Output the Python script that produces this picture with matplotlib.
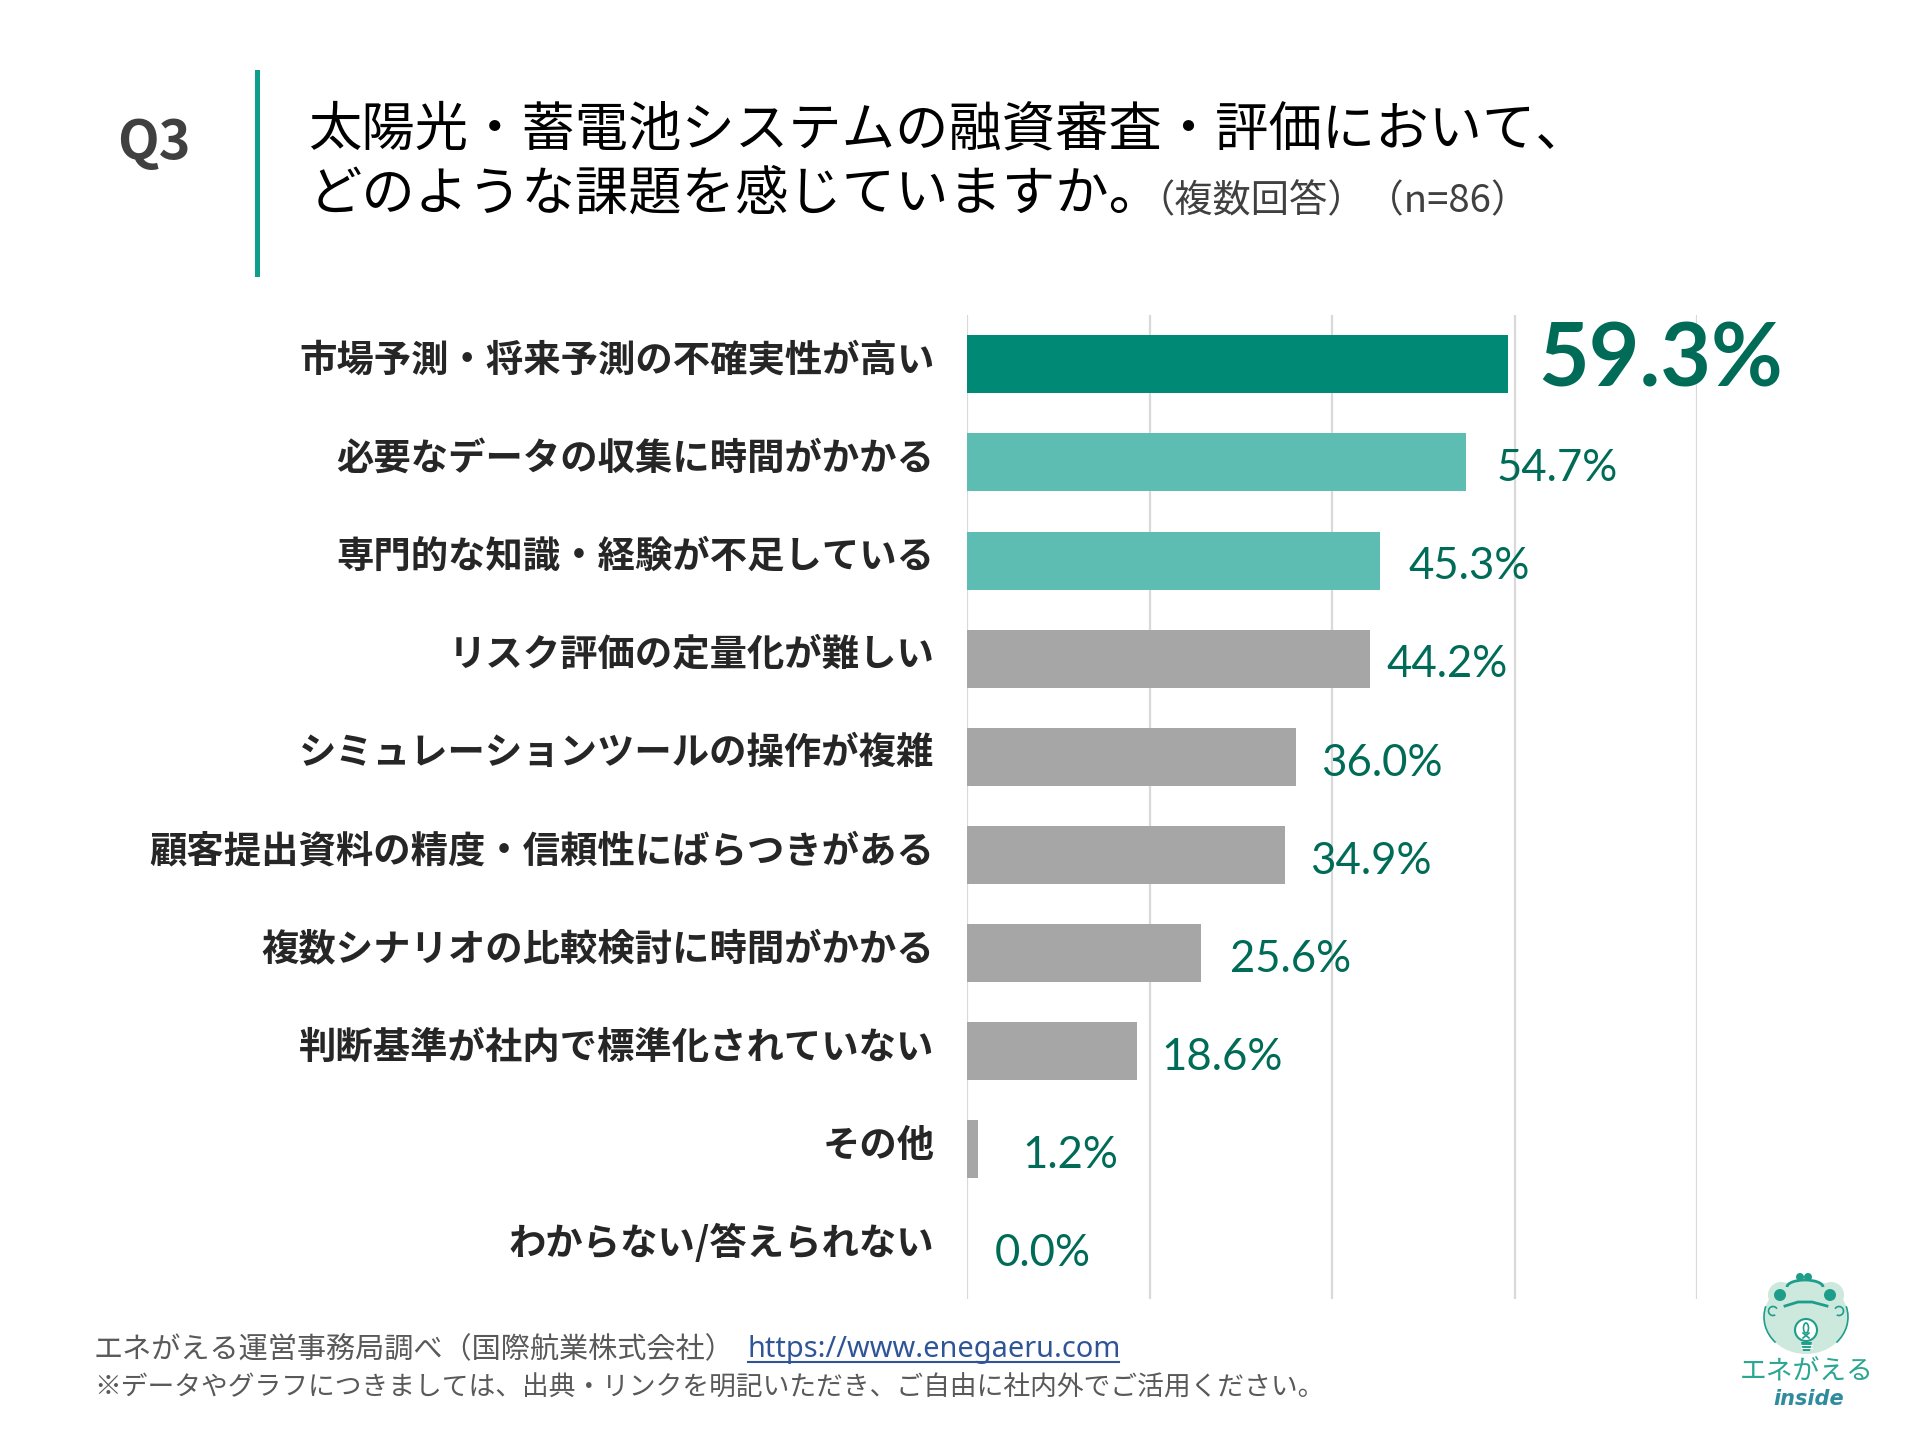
import matplotlib
matplotlib.use("Agg")
import matplotlib.pyplot as plt
from matplotlib.patches import Circle, Ellipse, Rectangle, Polygon, Arc
from matplotlib.transforms import ScaledTranslation

plt.rcParams['font.family'] = ['Noto Sans CJK JP', 'DejaVu Sans']

categories = ["市場予測・将来予測の不確実性が高い", "必要なデータの収集に時間がかかる",
              "専門的な知識・経験が不足している", "リスク評価の定量化が難しい",
              "シミュレーションツールの操作が複雑", "顧客提出資料の精度・信頼性にばらつきがある",
              "複数シナリオの比較検討に時間がかかる", "判断基準が社内で標準化されていない",
              "その他", "わからない/答えられない"]
values = [59.3, 54.7, 45.3, 44.2, 36.0, 34.9, 25.6, 18.6, 1.2, 0.0]
label_offset_px = [30, 30, 28, 16, 26, 25, 29, 25, 44, 28]
colors = ["#008A75", "#5EBDB2", "#5EBDB2"] + ["#A6A6A6"] * 7
value_color = "#006B57"
xticks = [0, 20, 40, 60, 80]

W, H = 1920, 1440
fig = plt.figure(figsize=(W / 100, H / 100), dpi=100, facecolor="white")

bg = fig.add_axes([0, 0, 1, 1], zorder=0)
bg.set_xlim(0, W); bg.set_ylim(H, 0); bg.axis("off")

x0, x1 = 967, 1697
y0, y1 = 315.2, 1298.6
ax = fig.add_axes([x0 / W, 1 - y1 / H, (x1 - x0) / W, (y1 - y0) / H], zorder=1)
ax.patch.set_alpha(0)
ax.set_xlim(0, 80)
ax.set_ylim(len(values) - 0.48, -0.5)
ax.barh(range(len(values)), values, height=0.59, color=colors, zorder=2)
ax.set_xticks(xticks)
ax.set_xticklabels([])
ax.set_yticks(range(len(values)))
ax.set_yticklabels(categories, fontsize=26.9, fontweight="bold", color="#262626")
ax.tick_params(axis="both", length=0, pad=23.5)
up = ScaledTranslation(0, 6 / 72, fig.dpi_scale_trans)
for t in ax.get_yticklabels():
    t.set_transform(t.get_transform() + up)
ax.grid(axis="x", color="#D9D9D9", linewidth=1.6, zorder=1)
ax.set_axisbelow(True)
for s in ax.spines.values():
    s.set_visible(False)

for i, (v, off) in enumerate(zip(values, label_offset_px)):
    big = i == 0
    ax.annotate(f"{v:.1f}%", (v, i), xytext=(off * 0.72, 2 if big else -4.5),
                textcoords="offset points", va="center", ha="left",
                family="Lato", color=value_color,
                fontsize=63 if big else 31.5,
                fontweight="bold" if big else "normal", zorder=3)

# header
bg.add_patch(Rectangle((255, 70), 5, 207, color="#0E9E8B", lw=0))
bg.text(117, 143, "Q3", fontsize=39, fontweight="bold", color="#404040", va="center")
bg.text(308, 130, "太陽光・蓄電池システムの融資審査・評価において、", fontsize=38.4, color="black", va="center")
bg.text(309, 194, "どのような課題を感じていますか。", fontsize=38.4, color="black", va="center")
bg.text(1136, 202, "（複数回答）（n=86）", fontsize=27.5, color="#404040", va="center")

# footer
bg.text(94, 1350, "エネがえる運営事務局調べ（国際航業株式会社）", fontsize=21, color="#595959", va="center")
bg.text(748, 1350, "https://www.enegaeru.com", fontsize=20.8, color="#2F5597", va="center", family="Noto Sans")
bg.plot([748, 1119], [1362, 1362], color="#2F5597", lw=1.5)
bg.text(94, 1388, "※データやグラフにつきましては、出典・リンクを明記いただき、ご自由に社内外でご活用ください。", fontsize=19.25, color="#595959", va="center")

# logo
mint, dk = "#CDE8DD", "#1E9E8A"
bg.add_patch(Ellipse((1806, 1317), 84, 74, color=mint, lw=0))
bg.add_patch(Circle((1781, 1295), 13, color=mint, lw=0))
bg.add_patch(Circle((1831, 1295), 13, color=mint, lw=0))
bg.add_patch(Rectangle((1781, 1283), 50, 20, color=mint, lw=0))
bg.add_patch(Circle((1780, 1295), 6, color=dk, lw=0))
bg.add_patch(Circle((1830, 1295), 6, color=dk, lw=0))
bg.add_patch(Circle((1800, 1277), 4, color=dk, lw=0))
bg.add_patch(Circle((1808, 1277), 4, color=dk, lw=0))
bg.add_patch(Arc((1805, 1287), 36, 14, theta1=180, theta2=360, color=dk, lw=2))
bg.plot([1785, 1798, 1812, 1827], [1306, 1302, 1302, 1306], color=dk, lw=2)
bg.add_patch(Arc((1773, 1311), 9, 9, theta1=60, theta2=330, color=dk, lw=1.2))
bg.add_patch(Arc((1839, 1311), 9, 9, theta1=210, theta2=120, color=dk, lw=1.2))
bg.add_patch(Arc((1806, 1317), 84, 74, theta1=140, theta2=195, color=dk, lw=1.2))
bg.add_patch(Arc((1806, 1317), 84, 74, theta1=-15, theta2=40, color=dk, lw=1.2))
bg.add_patch(Circle((1806, 1330), 11, fc="white", ec=dk, lw=1.5))
bg.add_patch(Ellipse((1806, 1328), 5, 10, fill=False, ec=dk, lw=1.2))
bg.plot([1803, 1809], [1338, 1333], color=dk, lw=1.2)
bg.plot([1809, 1803], [1338, 1333], color=dk, lw=1.2)
bg.add_patch(Polygon([[1801, 1342], [1812, 1342], [1810, 1351], [1803, 1351]], color=dk, lw=0))
bg.plot([1801, 1812], [1345, 1345], color="white", lw=0.8)
bg.plot([1801, 1812], [1348, 1348], color="white", lw=0.8)
bg.text(1807, 1372, "エネがえる", fontsize=19.3, color="#2BA692", ha="center", va="center")
bg.text(1809, 1399, "inside", fontsize=15, color="#2F8C9E", ha="center", va="center",
        fontweight="bold", fontstyle="italic", family="DejaVu Sans")

fig.savefig("out.png", dpi=100, facecolor="white")
